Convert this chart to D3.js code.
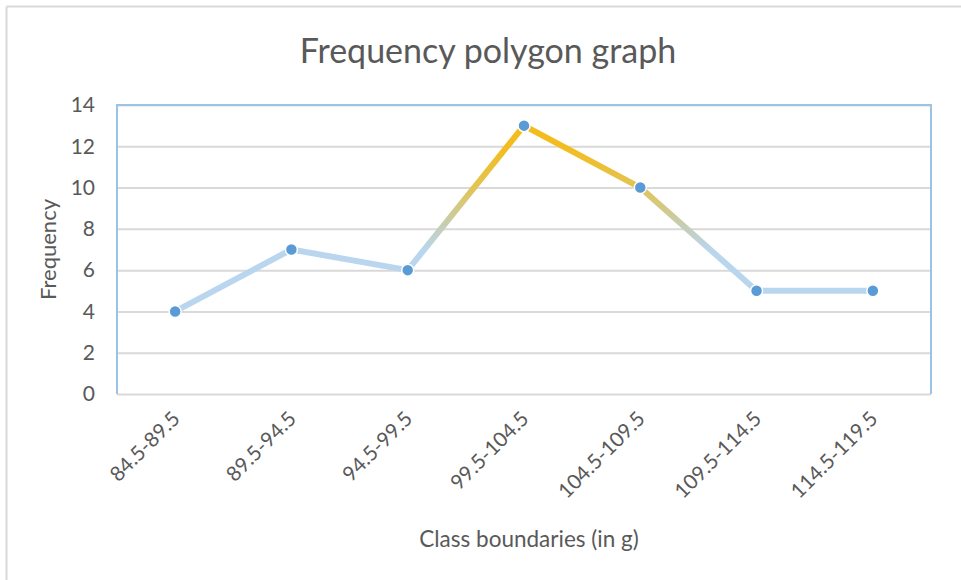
<!DOCTYPE html>
<html>
<head>
<meta charset="utf-8">
<script src="https://cdn.jsdelivr.net/npm/d3@7"></script>
<style>
  html, body { margin: 0; padding: 0; background: #fff; }
  svg { display: block; }
  text { font-family: Lato, "Open Sans", sans-serif; fill: #595959; }
</style>
</head>
<body>
<svg id="chart" width="961" height="580"></svg>
<script>
// Class intervals and their frequencies
const classes = ["84.5-89.5", "89.5-94.5", "94.5-99.5", "99.5-104.5", "104.5-109.5", "109.5-114.5", "114.5-119.5"];
const frequencies = [4, 7, 6, 13, 10, 5, 5];
const yTicks = [0, 2, 4, 6, 8, 10, 12, 14];

const svg = d3.select("#chart");
const W = 961, H = 580;
const plot = { left: 117, right: 931, top: 105, bottom: 394 };

// Outer chart frame (left and top edges visible)
svg.append("line").attr("x1", 6.5).attr("x2", W).attr("y1", 6.5).attr("y2", 6.5)
  .attr("stroke", "#d9d9d9").attr("stroke-width", 2);
svg.append("line").attr("x1", 6.5).attr("x2", 6.5).attr("y1", 6.5).attr("y2", H)
  .attr("stroke", "#d9d9d9").attr("stroke-width", 2);

const x = d3.scaleBand().domain(classes).range([plot.left, plot.right]);
const y = d3.scaleLinear().domain([0, 14]).range([plot.bottom, plot.top]);
const cx = d => x(d) + x.bandwidth() / 2;

// Title
svg.append("text")
  .attr("x", 488).attr("y", 63)
  .attr("text-anchor", "middle")
  .attr("font-size", 34)
  .text("Frequency polygon graph");

// Horizontal gridlines
const yAxis = d3.axisLeft(y).tickValues(yTicks).tickSize(0).tickPadding(22);
const gy = svg.append("g").attr("transform", `translate(${plot.left},0)`).call(yAxis);
gy.select(".domain").remove();
gy.selectAll("text").attr("font-size", 21).attr("font-family", "Lato, sans-serif").attr("fill", "#595959");
gy.selectAll(".tick").append("line")
  .attr("x1", 0).attr("x2", plot.right - plot.left)
  .attr("stroke", "#d9d9d9").attr("stroke-width", 2);

// Plot area border (left, top, right)
svg.append("path")
  .attr("d", `M${plot.left},${plot.bottom}V${plot.top}H${plot.right}V${plot.bottom}`)
  .attr("fill", "none").attr("stroke", "#9cc2e5").attr("stroke-width", 2);

// Category axis with rotated labels
const xAxis = d3.axisBottom(x).tickSize(0).tickPadding(0);
const gx = svg.append("g").attr("transform", `translate(0,${plot.bottom})`).call(xAxis);
gx.select(".domain").remove();
gx.selectAll("text")
  .attr("font-size", 20.5).attr("font-family", "Lato, sans-serif").attr("fill", "#595959")
  .attr("text-anchor", "end")
  .attr("dy", null).attr("y", 0)
  .attr("transform", "translate(6,26) rotate(-45)");

// Axis titles
svg.append("text")
  .attr("x", 529).attr("y", 547)
  .attr("text-anchor", "middle").attr("font-size", 22.5)
  .text("Class boundaries (in g)");
svg.append("text")
  .attr("transform", `translate(56,${(plot.top + plot.bottom) / 2}) rotate(-90)`)
  .attr("text-anchor", "middle").attr("font-size", 22)
  .text("Frequency");

// Vertical colour gradient for the line: blue at low values, gold at the peak
const defs = svg.append("defs");
const grad = defs.append("linearGradient")
  .attr("id", "lineGrad").attr("gradientUnits", "userSpaceOnUse")
  .attr("x1", 0).attr("x2", 0)
  .attr("y1", y(13)).attr("y2", y(7));
[[0, "#f4bc1c"], [0.2, "#f2bd22"], [0.5, "#e2c455"], [0.8, "#c6cdb0"], [1, "#bad5ee"]]
  .forEach(([o, c]) => grad.append("stop").attr("offset", o).attr("stop-color", c));

const line = d3.line().x((d, i) => cx(classes[i])).y(d => y(d));
svg.append("path")
  .datum(frequencies)
  .attr("d", line)
  .attr("fill", "none")
  .attr("stroke", "url(#lineGrad)")
  .attr("stroke-width", 6)
  .attr("stroke-linejoin", "round");

// Markers
svg.append("g").selectAll("circle")
  .data(frequencies)
  .join("circle")
  .attr("cx", (d, i) => cx(classes[i]))
  .attr("cy", d => y(d))
  .attr("r", 6)
  .attr("fill", "#5b9bd5")
  .attr("stroke", "#fff")
  .attr("stroke-width", 1.5);
</script>
</body>
</html>
